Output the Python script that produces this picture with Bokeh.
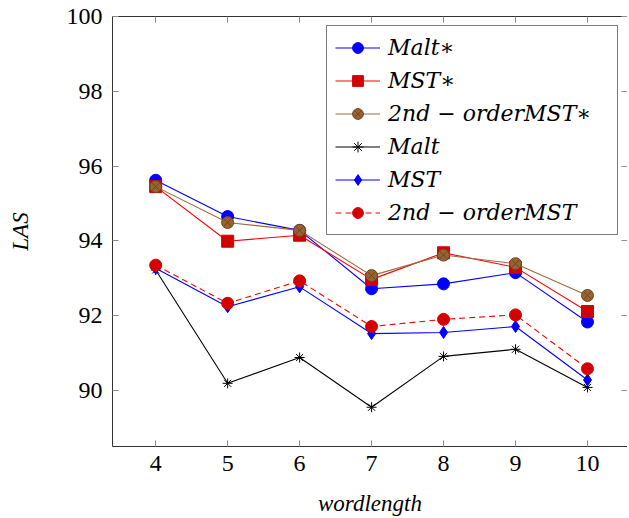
from bokeh.plotting import figure
from bokeh.models import LinearAxis, FixedTicker, Legend, LegendItem, Range1d
from bokeh.embed import file_html
from bokeh.resources import INLINE

word_length = [4, 5, 6, 7, 8, 9, 10]
malt_star = [95.62, 94.65, 94.28, 92.72, 92.85, 93.15, 91.83]
mst_star = [95.45, 93.99, 94.15, 92.97, 93.68, 93.29, 92.11]
second_star = [95.45, 94.49, 94.28, 93.07, 93.62, 93.39, 92.54]
malt = [93.22, 90.19, 90.88, 89.55, 90.91, 91.10, 90.08]
mst = [93.27, 92.24, 92.77, 91.52, 91.55, 91.71, 90.28]
second = [93.35, 92.33, 92.93, 91.71, 91.90, 92.02, 90.58]

labels = ["Malt∗", "MST∗", "2nd − orderMST∗", "Malt", "MST", "2nd − orderMST"]
x_ticks = [4, 5, 6, 7, 8, 9, 10]
y_ticks = [90, 92, 94, 96, 98, 100]

TICK_FONT = "'Liberation Serif', serif"
ITALIC_FONT = "'Liberation Serif', serif"
LEGEND_FONT = "'DejaVu Serif', serif"

p = figure(frame_width=515, frame_height=430,
           x_range=Range1d(3.4, 10.556), y_range=Range1d(88.5, 100),
           output_backend="svg", toolbar_location=None,
           min_border_left=112, min_border_top=16, min_border_bottom=70, min_border_right=0)
p.xgrid.visible = False
p.ygrid.visible = False
p.outline_line_color = None
p.background_fill_color = "white"

xt = FixedTicker(ticks=x_ticks)
yt = FixedTicker(ticks=y_ticks)

for ax, tk in ((p.xaxis[0], xt), (p.yaxis[0], yt)):
    ax.ticker = tk
    ax.minor_tick_line_color = None
    ax.major_tick_in = 6
    ax.major_tick_out = 0
    ax.major_tick_line_color = "#8c8c8c"
    ax.axis_line_color = "#333333"
    ax.major_label_text_font = TICK_FONT
    ax.major_label_text_font_size = "24px"
    ax.major_label_text_color = "black"
    ax.axis_label_text_font = ITALIC_FONT
    ax.axis_label_text_font_style = "italic"
    ax.axis_label_text_font_size = "23px"
    ax.axis_label_text_color = "black"

p.xaxis[0].axis_label = "wordlength"
p.yaxis[0].axis_label = "LAS"
p.xaxis[0].major_label_standoff = 9
p.yaxis[0].major_label_standoff = 10
p.yaxis[0].axis_label_standoff = 31
p.xaxis[0].axis_label_standoff = 17

top = LinearAxis(ticker=FixedTicker(ticks=x_ticks), major_label_overrides={t: "" for t in x_ticks},
                 major_tick_in=6, major_tick_out=0, minor_tick_line_color=None,
                 major_tick_line_color="#8c8c8c", axis_line_color="#333333",
                 major_label_standoff=0, major_label_text_font_size="1px")
right = LinearAxis(ticker=FixedTicker(ticks=y_ticks), major_label_overrides={t: "" for t in y_ticks},
                   major_tick_in=6, major_tick_out=0, minor_tick_line_color=None,
                   major_tick_line_color="#8c8c8c", axis_line_color="#333333",
                   major_label_standoff=0, major_label_text_font_size="1px")
p.add_layout(top, "above")
p.add_layout(right, "right")

series = [
    (malt_star, "#0000ff", "#0000ff", "#0000ff", "circle", 12, None),
    (mst_star, "#ff0000", "#d40000", "#d40000", "square", 12, None),
    (second_star, "#9c6b3c", "#99632f", "#6e4520", "circle_x", 12, None),
    (malt, "#000000", None, "#000000", "asterisk", 10, None),
    (mst, "#0000ff", "#0000ff", "#0000ff", "diamond", 12, None),
    (second, "#ff0000", "#d40000", "#d40000", "circle", 12, "6 4"),
]

items = []
for (vals, lc, fc, mc, marker, size, dash), lab in zip(series, labels):
    kw = {}
    if dash:
        kw["line_dash"] = dash
    r1 = p.line(word_length, vals, line_color=lc, line_width=1.1, **kw)
    r2 = p.scatter(word_length, vals, marker=marker, size=size,
                   fill_color=fc, line_color=mc, line_width=1)
    items.append(LegendItem(label=lab, renderers=[r1, r2]))

legend = Legend(items=items, location="top_right", margin=9,
                label_text_font=LEGEND_FONT, label_text_font_style="italic",
                label_text_font_size="22px", label_text_color="black",
                glyph_width=45, glyph_height=27, label_height=27, label_width=221,
                label_standoff=8, spacing=6, padding=8,
                border_line_color="black", border_line_width=1,
                background_fill_color="white", background_fill_alpha=1.0)
p.add_layout(legend, "center")

open("out.html", "w").write(file_html(p, INLINE))
